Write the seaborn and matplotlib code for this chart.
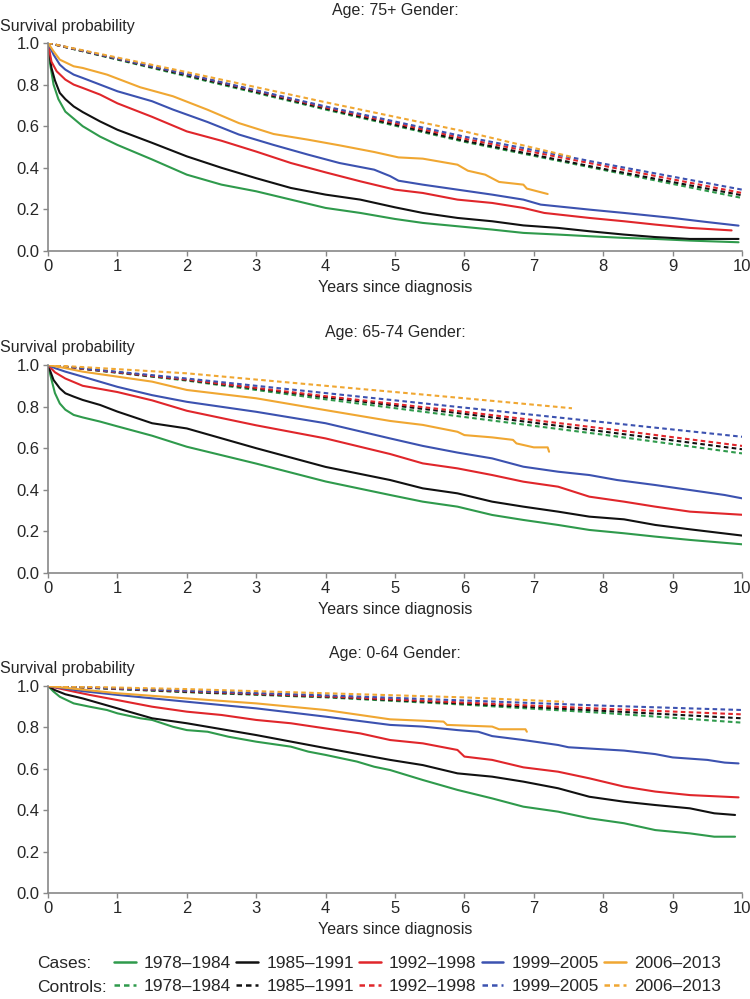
import seaborn as sns
import matplotlib.pyplot as plt
from matplotlib.lines import Line2D
import pandas as pd

# Periods, colours, panels
periods = ["1978–1984", "1985–1991", "1992–1998", "1999–2005", "2006–2013"]
colors = ["#2f9a4c", "#111111", "#e0262b", "#3c52b0", "#f0a732"]
panel_titles = ["Age: 75+ Gender:", "Age: 65-74 Gender:", "Age: 0-64 Gender:"]

# ---- Age 75+ : cases (years, survival) ----
t75_a = [0, 0.03, 0.08, 0.15, 0.25, 0.5, 0.75, 1, 1.5, 2, 2.5, 3, 3.5, 4, 4.5, 5, 5.4, 5.9, 6.4, 6.85, 7.35, 7.8, 8.3, 8.75, 9.25, 9.95]
s75_a = [1, 0.90, 0.80, 0.73, 0.67, 0.60, 0.55, 0.51, 0.44, 0.367, 0.319, 0.287, 0.247, 0.207, 0.183, 0.154, 0.135, 0.119, 0.103, 0.087, 0.079, 0.071, 0.063, 0.058, 0.05, 0.042]
t75_b = [0, 0.05, 0.1, 0.17, 0.25, 0.37, 0.5, 0.75, 1, 1.5, 2, 2.5, 3, 3.5, 4, 4.5, 5, 5.4, 5.9, 6.4, 6.85, 7.35, 7.8, 8.3, 8.75, 9.25, 9.95]
s75_b = [1, 0.88, 0.82, 0.76, 0.73, 0.695, 0.668, 0.623, 0.583, 0.52, 0.455, 0.40, 0.35, 0.303, 0.271, 0.247, 0.21, 0.183, 0.159, 0.143, 0.123, 0.111, 0.095, 0.079, 0.067, 0.058, 0.058]
t75_c = [0, 0.05, 0.125, 0.25, 0.37, 0.5, 0.75, 1, 1.5, 2, 2.5, 3, 3.5, 4, 4.5, 5, 5.4, 5.9, 6.4, 6.85, 7.15, 7.8, 8.3, 8.75, 9.25, 9.85]
s75_c = [1, 0.91, 0.864, 0.824, 0.80, 0.784, 0.752, 0.71, 0.645, 0.575, 0.53, 0.478, 0.423, 0.378, 0.335, 0.295, 0.279, 0.247, 0.231, 0.207, 0.183, 0.159, 0.143, 0.127, 0.111, 0.099]
t75_d = [0, 0.08, 0.17, 0.25, 0.37, 0.5, 0.75, 1, 1.5, 1.8, 2.3, 2.75, 3.25, 3.75, 4.2, 4.7, 4.93, 5.05, 5.4, 5.9, 6.4, 6.85, 7.1, 7.8, 8.3, 9.0, 9.5, 9.95]
s75_d = [1, 0.944, 0.896, 0.872, 0.848, 0.832, 0.80, 0.768, 0.72, 0.68, 0.62, 0.56, 0.51, 0.463, 0.423, 0.391, 0.36, 0.338, 0.319, 0.295, 0.271, 0.247, 0.223, 0.199, 0.183, 0.159, 0.139, 0.122]
t75_e = [0, 0.08, 0.17, 0.37, 0.5, 0.85, 1.33, 1.8, 2.3, 2.75, 3.25, 3.75, 4.2, 4.7, 5.05, 5.4, 5.9, 6.05, 6.3, 6.5, 6.85, 6.9, 7.2]
s75_e = [1, 0.96, 0.92, 0.888, 0.88, 0.848, 0.787, 0.744, 0.679, 0.615, 0.5625, 0.535, 0.508, 0.476, 0.45, 0.444, 0.415, 0.386, 0.367, 0.332, 0.319, 0.30, 0.274]

# ---- Age 65-74 : cases ----
t65_a = [0, 0.05, 0.1, 0.17, 0.25, 0.37, 0.5, 0.75, 1, 1.5, 2, 3, 4, 4.93, 5.4, 5.9, 6.4, 6.85, 7.35, 7.8, 8.3, 8.75, 9.25, 10]
s65_a = [1, 0.93, 0.865, 0.815, 0.785, 0.76, 0.748, 0.728, 0.705, 0.66, 0.607, 0.526, 0.44, 0.375, 0.343, 0.319, 0.279, 0.255, 0.231, 0.207, 0.191, 0.175, 0.159, 0.138]
t65_b = [0, 0.08, 0.17, 0.25, 0.37, 0.5, 0.75, 1, 1.5, 2, 3, 4, 4.93, 5.4, 5.9, 6.4, 6.85, 7.35, 7.8, 8.3, 8.75, 9.25, 10]
s65_b = [1, 0.928, 0.888, 0.864, 0.848, 0.832, 0.808, 0.776, 0.72, 0.695, 0.60, 0.51, 0.447, 0.407, 0.383, 0.343, 0.319, 0.295, 0.271, 0.258, 0.231, 0.21, 0.18]
t65_c = [0, 0.1, 0.25, 0.5, 1, 1.5, 2, 3, 4, 4.93, 5.4, 5.9, 6.4, 6.85, 7.35, 7.8, 8.3, 8.75, 9.25, 10]
s65_c = [1, 0.965, 0.935, 0.90, 0.87, 0.83, 0.78, 0.71, 0.647, 0.572, 0.527, 0.503, 0.471, 0.439, 0.415, 0.367, 0.343, 0.319, 0.295, 0.28]
t65_d = [0, 0.1, 0.25, 0.5, 1, 1.5, 2, 3, 4, 4.93, 5.4, 5.9, 6.4, 6.85, 7.35, 7.8, 8.2, 8.75, 9.25, 9.75, 10]
s65_d = [1, 0.985, 0.968, 0.944, 0.895, 0.855, 0.823, 0.775, 0.72, 0.647, 0.611, 0.579, 0.551, 0.511, 0.487, 0.471, 0.447, 0.423, 0.399, 0.375, 0.359]
t65_e = [0, 0.25, 0.5, 1, 1.5, 2, 3, 4, 4.93, 5.4, 5.9, 6.0, 6.4, 6.7, 6.75, 7.0, 7.2, 7.22]
s65_e = [1, 0.985, 0.968, 0.944, 0.92, 0.88, 0.84, 0.783, 0.731, 0.712, 0.679, 0.663, 0.652, 0.64, 0.623, 0.604, 0.604, 0.583]

# ---- Age 0-64 : cases ----
t00_a = [0, 0.08, 0.17, 0.37, 0.6, 0.85, 1, 1.33, 1.5, 1.8, 2, 2.3, 2.6, 3, 3.5, 3.75, 4, 4.45, 4.7, 4.93, 5.4, 5.9, 6.4, 6.85, 7.35, 7.8, 8.3, 8.75, 9.25, 9.6, 9.9]
s00_a = [1, 0.973, 0.948, 0.916, 0.90, 0.884, 0.868, 0.844, 0.836, 0.803, 0.787, 0.779, 0.755, 0.731, 0.707, 0.683, 0.667, 0.635, 0.61, 0.594, 0.546, 0.498, 0.457, 0.417, 0.393, 0.361, 0.337, 0.304, 0.288, 0.272, 0.272]
t00_b = [0, 0.1, 0.25, 0.5, 1, 1.5, 2, 3, 4, 4.93, 5.4, 5.9, 6.4, 6.85, 7.35, 7.8, 8.3, 8.75, 9.25, 9.6, 9.9]
s00_b = [1, 0.98, 0.96, 0.94, 0.892, 0.844, 0.82, 0.763, 0.70, 0.643, 0.618, 0.578, 0.562, 0.538, 0.506, 0.465, 0.441, 0.425, 0.409, 0.385, 0.377]
t00_c = [0, 0.37, 0.6, 1, 1.5, 2, 2.5, 3, 3.5, 4, 4.5, 4.93, 5.4, 5.9, 6.0, 6.4, 6.85, 7.35, 7.8, 8.3, 8.75, 9.25, 9.95]
s00_c = [1, 0.973, 0.957, 0.932, 0.90, 0.876, 0.86, 0.836, 0.82, 0.795, 0.771, 0.739, 0.723, 0.691, 0.659, 0.643, 0.607, 0.586, 0.554, 0.514, 0.49, 0.473, 0.462]
t00_d = [0, 0.5, 1, 2, 3, 4, 4.93, 5.4, 5.9, 6.2, 6.4, 6.85, 7.35, 7.5, 8.3, 8.75, 9.0, 9.5, 9.75, 9.95]
s00_d = [1, 0.975, 0.957, 0.924, 0.892, 0.852, 0.812, 0.804, 0.787, 0.779, 0.758, 0.739, 0.715, 0.704, 0.688, 0.671, 0.655, 0.643, 0.63, 0.626]
t00_e = [0, 1, 2, 3, 4, 4.93, 5.7, 5.75, 6.4, 6.5, 6.88, 6.9]
s00_e = [1, 0.965, 0.94, 0.916, 0.884, 0.839, 0.828, 0.812, 0.804, 0.791, 0.791, 0.779]

# ---- Controls ----
tk = [0, 2, 4, 6, 8, 10]
tk75_e = [0, 2, 4, 6, 7.55]
tk00_e = [0, 2, 4, 6, 7.43]
k75_a = [1, 0.84, 0.68, 0.525, 0.39, 0.255]
k75_b = [1, 0.845, 0.685, 0.53, 0.395, 0.268]
k75_c = [1, 0.85, 0.69, 0.54, 0.41, 0.279]
k75_d = [1, 0.85, 0.695, 0.55, 0.42, 0.295]
k75_e = [1, 0.86, 0.715, 0.575, 0.452]
k65_a = [1, 0.925, 0.835, 0.75, 0.665, 0.575]
k65_b = [1, 0.928, 0.845, 0.765, 0.68, 0.595]
k65_c = [1, 0.93, 0.85, 0.775, 0.695, 0.611]
k65_d = [1, 0.935, 0.865, 0.795, 0.725, 0.655]
k65_e = [1, 0.96, 0.90, 0.84, 0.792]
k00_a = [1, 0.97, 0.945, 0.91, 0.87, 0.823]
k00_b = [1, 0.972, 0.948, 0.915, 0.88, 0.844]
k00_c = [1, 0.975, 0.95, 0.92, 0.89, 0.863]
k00_d = [1, 0.977, 0.955, 0.93, 0.905, 0.884]
k00_e = [1, 0.985, 0.965, 0.945, 0.924]

panels = [
    ([t75_a, t75_b, t75_c, t75_d, t75_e], [s75_a, s75_b, s75_c, s75_d, s75_e],
     [tk, tk, tk, tk, tk75_e], [k75_a, k75_b, k75_c, k75_d, k75_e]),
    ([t65_a, t65_b, t65_c, t65_d, t65_e], [s65_a, s65_b, s65_c, s65_d, s65_e],
     [tk, tk, tk, tk, tk75_e], [k65_a, k65_b, k65_c, k65_d, k65_e]),
    ([t00_a, t00_b, t00_c, t00_d, t00_e], [s00_a, s00_b, s00_c, s00_d, s00_e],
     [tk, tk, tk, tk, tk00_e], [k00_a, k00_b, k00_c, k00_d, k00_e]),
]

sns.set_style("ticks")
plt.rcParams["font.family"] = ["Liberation Sans", "DejaVu Sans"]

W, H = 750, 999
fig = plt.figure(figsize=(7.5, 9.99), dpi=100)
palette = dict(zip(periods, colors))
dashes = {"Cases": "", "Controls": (2.2, 1.6)}

# axes boxes in pixels: (top at 1.0, bottom at 0.0)
boxes = [(43, 251), (365, 573), (686, 893)]
left_px, right_px = 48, 742

for (cx, cy, kx, ky), (top, bot), title in zip(panels, boxes, panel_titles):
    ax = fig.add_axes([left_px / W, 1 - bot / H, (right_px - left_px) / W, (bot - top) / H])
    rows = []
    for p, xs, ys in zip(periods, kx, ky):
        rows += [(x, y, p, "Controls") for x, y in zip(xs, ys)]
    for p, xs, ys in zip(periods, cx, cy):
        rows += [(x, y, p, "Cases") for x, y in zip(xs, ys)]
    df = pd.DataFrame(rows, columns=["year", "surv", "period", "group"])
    sns.lineplot(data=df, x="year", y="surv", hue="period", style="group",
                 palette=palette, dashes=dashes, estimator=None, sort=False,
                 units="period", linewidth=1.5, legend=False, ax=ax)
    ax.set_xlim(0, 10)
    ax.set_ylim(0, 1)
    ax.set_xticks(range(0, 11))
    ax.set_yticks([0, 0.2, 0.4, 0.6, 0.8, 1.0])
    ax.set_yticklabels(["0.0", "0.2", "0.4", "0.6", "0.8", "1.0"])
    ax.tick_params(labelsize=12, length=3.5, width=1, color="#888888", pad=2.5)
    for s in ["top", "right"]:
        ax.spines[s].set_visible(False)
    for s in ["left", "bottom"]:
        ax.spines[s].set_color("#888888")
        ax.spines[s].set_linewidth(1.2)
    ax.set_xlabel("Years since diagnosis", fontsize=11.5, labelpad=4)
    ax.set_ylabel("")
    ax.set_title(title, fontsize=11.5, pad=20)
    fig.text(0, 1 - (top - 17) / H, "Survival probability", fontsize=11.5,
             ha="left", va="center")

handles, labels = [], []
for p, c in zip(periods, colors):
    handles.append(Line2D([], [], color=c, lw=1.8))
    labels.append(p)
    handles.append(Line2D([], [], color=c, lw=1.8, dashes=(2.2, 1.6)))
    labels.append(p)
fig.legend(handles, labels, ncol=5, loc="center left", frameon=False,
           bbox_to_anchor=(114 / W, 1 - 975 / H), fontsize=12.5,
           handlelength=1.26, handletextpad=0.46, columnspacing=0.3,
           labelspacing=0.42, borderpad=0, borderaxespad=0)
fig.text(37 / W, 1 - 963 / H, "Cases:", fontsize=12.5, ha="left", va="center")
fig.text(37 / W, 1 - 987 / H, "Controls:", fontsize=12.5, ha="left", va="center")

plt.savefig("out.png", dpi=100)
